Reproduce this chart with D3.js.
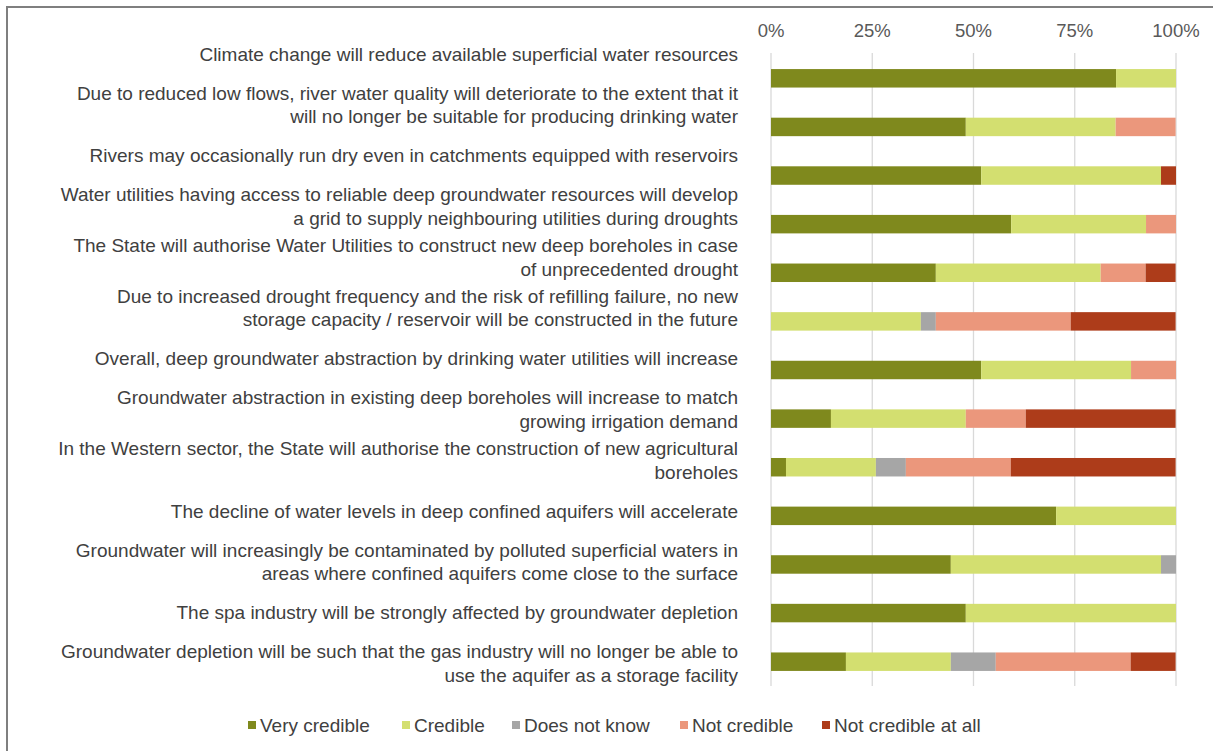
<!DOCTYPE html>
<html>
<head>
<meta charset="utf-8">
<script src="https://cdn.jsdelivr.net/npm/d3@7/dist/d3.min.js"></script>
<style>
  html, body { margin: 0; padding: 0; background: #fff; }
  svg { display: block; }
  text { font-family: "Liberation Sans", Arial, sans-serif; }
</style>
</head>
<body>
<svg id="chart" width="1213" height="751"></svg>
<script>
// ---------- DATA ----------
const categories = [
  ["Climate change will reduce available superficial water resources"],
  ["Due to reduced low flows, river water quality will deteriorate to the extent that it", "will no longer be suitable for producing drinking water"],
  ["Rivers may occasionally run dry even in catchments equipped with reservoirs"],
  ["Water utilities having access to reliable deep groundwater resources will develop", "a grid to supply neighbouring utilities during droughts"],
  ["The State will authorise Water Utilities to construct new deep boreholes in case", "of unprecedented drought"],
  ["Due to increased drought frequency and the risk of refilling failure, no new", "storage capacity / reservoir will be constructed in the future"],
  ["Overall, deep groundwater abstraction by drinking water utilities will increase"],
  ["Groundwater abstraction in existing deep boreholes will increase to match", "growing irrigation demand"],
  ["In the Western sector, the State will authorise the construction of new agricultural", "boreholes"],
  ["The decline of water levels in deep confined aquifers will accelerate"],
  ["Groundwater will increasingly be contaminated by polluted superficial waters in", "areas where confined aquifers come close to the surface"],
  ["The spa industry will be strongly affected by groundwater depletion"],
  ["Groundwater depletion will be such that the gas industry will no longer be able to", "use the aquifer as a storage facility"]
];
const seriesNames = ["Very credible", "Credible", "Does not know", "Not credible", "Not credible at all"];
const veryCredible     = [85.2, 48.1, 51.9, 59.3, 40.7,  0.0, 51.9, 14.8,  3.7, 70.4, 44.4, 48.1, 18.5];
const credible         = [14.8, 37.0, 44.4, 33.3, 40.7, 37.0, 37.0, 33.3, 22.2, 29.6, 51.9, 51.9, 25.9];
const doesNotKnow      = [ 0.0,  0.0,  0.0,  0.0,  0.0,  3.7,  0.0,  0.0,  7.4,  0.0,  3.7,  0.0, 11.1];
const notCredible      = [ 0.0, 14.8,  0.0,  7.4, 11.1, 33.3, 11.1, 14.8, 25.9,  0.0,  0.0,  0.0, 33.3];
const notCredibleAtAll = [ 0.0,  0.0,  3.7,  0.0,  7.4, 25.9,  0.0, 37.0, 40.7,  0.0,  0.0,  0.0, 11.1];
const tickValues = [0, 25, 50, 75, 100];
const tickLabels = ["0%", "25%", "50%", "75%", "100%"];
const colors = ["#7f891d", "#d3df70", "#a6a6a6", "#eb977c", "#ad3c1a"];

// ---------- LAYOUT ----------
const svg = d3.select("#chart");
const FS = 19;
const seriesVals = [veryCredible, credible, doesNotKnow, notCredible, notCredibleAtAll];
const rows = categories.map((c, i) => {
  const r = { idx: i };
  seriesNames.forEach((s, j) => r[s] = seriesVals[j][i]);
  return r;
});
const stack = d3.stack().keys(seriesNames)(rows);

const x = d3.scaleLinear().domain([0, 100]).range([771, 1176]);
const y = d3.scaleBand().domain(d3.range(categories.length)).range([54, 686]).paddingInner(0.62).paddingOuter(0.31);
const labelY = d3.scalePoint().domain(d3.range(categories.length)).range([54, 663.5]);

// border
svg.append("rect").attr("x", 7).attr("y", 7).attr("width", 1230).attr("height", 770)
  .attr("fill", "none").attr("stroke", "#7f7f7f").attr("stroke-width", 2);

// gridlines
svg.append("g").selectAll("line").data(tickValues).join("line")
  .attr("x1", d => x(d)).attr("x2", d => x(d))
  .attr("y1", 53).attr("y2", 686)
  .attr("stroke", "#d9d9d9").attr("stroke-width", 1.3);

// top axis labels
svg.append("g").selectAll("text").data(tickValues).join("text")
  .attr("x", d => x(d)).attr("y", 31)
  .attr("dy", "0.35em")
  .attr("text-anchor", "middle")
  .attr("font-size", 18.5).attr("fill", "#595959")
  .text((d, i) => tickLabels[i]);

// bars
svg.append("g").selectAll("g").data(stack).join("g")
  .attr("fill", (d, i) => colors[i])
  .selectAll("rect").data(d => d).join("rect")
  .attr("x", d => x(d[0]))
  .attr("width", d => Math.max(0, x(d[1]) - x(d[0])))
  .attr("y", (d, i) => y(i))
  .attr("height", y.bandwidth());

// category labels
const lg = svg.append("g");
categories.forEach((lines, i) => {
  const c = labelY(i);
  const lh = 23.5;
  const start = c - (lines.length - 1) * lh / 2;
  lines.forEach((t, k) => {
    lg.append("text")
      .attr("x", 738).attr("y", start + k * lh)
      .attr("dy", "0.35em")
      .attr("text-anchor", "end")
      .attr("font-size", FS).attr("fill", "#404040")
      .text(t);
  });
});

// legend
const legendX = [248, 402, 512, 680, 822];
const leg = svg.append("g");
seriesNames.forEach((s, i) => {
  leg.append("rect").attr("x", legendX[i]).attr("y", 721).attr("width", 8).attr("height", 8).attr("fill", colors[i]);
  leg.append("text").attr("x", legendX[i] + 12).attr("y", 725).attr("dy", "0.35em")
    .attr("font-size", FS).attr("fill", "#404040").text(s);
});
</script>
</body>
</html>
